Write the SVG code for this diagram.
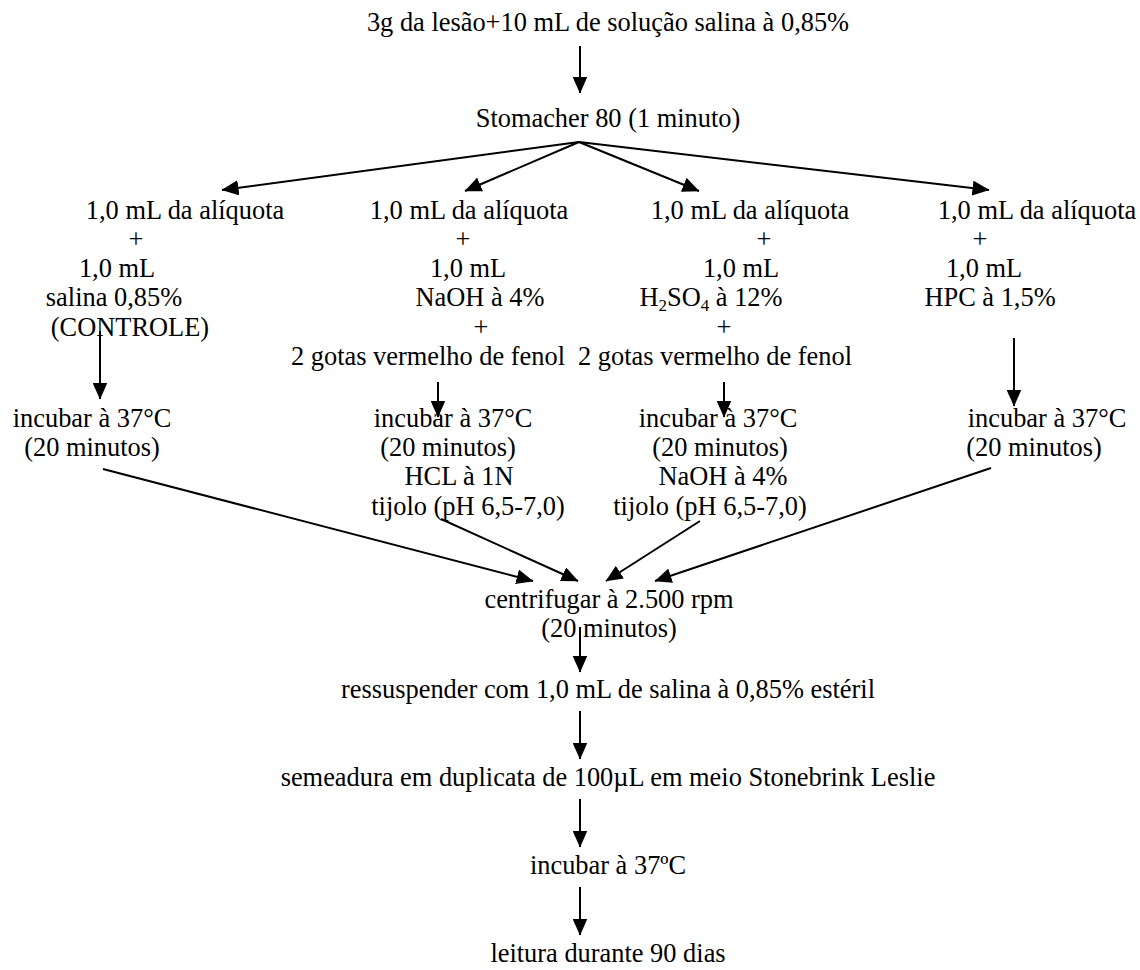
<svg xmlns="http://www.w3.org/2000/svg" width="1140" height="970" viewBox="0 0 1140 970">
  <style>
    text { font-family: "Liberation Serif", "Times New Roman", serif; font-size: 26.4px; fill: #000; text-anchor: middle; }
    .sub { font-size: 17px; }
    .conn line { stroke: #000; stroke-width: 2; fill: none; marker-end: url(#ah); }
  </style>
  <defs>
    <marker id="ah" markerUnits="userSpaceOnUse" markerWidth="17" markerHeight="15" viewBox="0 0 17 15" refX="16.5" refY="7.5" orient="auto">
      <path d="M0,0 L17,7.5 L0,15 Z" fill="#000"/>
    </marker>
  </defs>
  <rect width="1140" height="970" fill="#fff"/>

  <!-- process steps -->
  <g id="amostra"><text x="608" y="31">3g da lesão+10 mL de solução salina à 0,85%</text></g>
  <g id="stomacher"><text x="608" y="127">Stomacher 80 (1 minuto)</text></g>

  <g id="controle">
    <text x="185" y="219">1,0 mL da alíquota</text>
    <text x="136" y="248">+</text>
    <text x="117" y="277">1,0 mL</text>
    <text x="114" y="306">salina 0,85%</text>
    <text x="130" y="336">(CONTROLE)</text>
  </g>
  <g id="naoh">
    <text x="469" y="219">1,0 mL da alíquota</text>
    <text x="463" y="248">+</text>
    <text x="468" y="277">1,0 mL</text>
    <text x="480" y="306">NaOH à 4%</text>
    <text x="481" y="336">+</text>
    <text x="428" y="365">2 gotas vermelho de fenol</text>
  </g>
  <g id="h2so4">
    <text x="750" y="219">1,0 mL da alíquota</text>
    <text x="764" y="248">+</text>
    <text x="741" y="277">1,0 mL</text>
    <text x="711" y="306">H<tspan class="sub" dy="5">2</tspan><tspan dy="-5">SO</tspan><tspan class="sub" dy="5">4</tspan><tspan dy="-5"> à 12%</tspan></text>
    <text x="724" y="336">+</text>
    <text x="715" y="365">2 gotas vermelho de fenol</text>
  </g>
  <g id="hpc">
    <text x="1037" y="219">1,0 mL da alíquota</text>
    <text x="980" y="248">+</text>
    <text x="984" y="277">1,0 mL</text>
    <text x="990" y="306">HPC à 1,5%</text>
  </g>

  <g id="incubar-controle">
    <text x="92" y="427">incubar à 37°C</text>
    <text x="92" y="456">(20 minutos)</text>
  </g>
  <g id="incubar-naoh">
    <text x="453" y="427">incubar à 37°C</text>
    <text x="448" y="456">(20 minutos)</text>
    <text x="459" y="485">HCL à 1N</text>
    <text x="468" y="515">tijolo (pH 6,5-7,0)</text>
  </g>
  <g id="incubar-h2so4">
    <text x="718" y="427">incubar à 37°C</text>
    <text x="720" y="456">(20 minutos)</text>
    <text x="723" y="485">NaOH à 4%</text>
    <text x="710" y="515">tijolo (pH 6,5-7,0)</text>
  </g>
  <g id="incubar-hpc">
    <text x="1047" y="427">incubar à 37°C</text>
    <text x="1034" y="456">(20 minutos)</text>
  </g>

  <g id="centrifugar">
    <text x="609" y="608">centrifugar à 2.500 rpm</text>
    <text x="609" y="637">(20 minutos)</text>
  </g>
  <g id="ressuspender"><text x="608" y="698">ressuspender com 1,0 mL de salina à 0,85% estéril</text></g>
  <g id="semeadura"><text x="608" y="786">semeadura em duplicata de 100µL em meio Stonebrink Leslie</text></g>
  <g id="incubacao"><text x="608" y="874">incubar à 37ºC</text></g>
  <g id="leitura"><text x="608" y="962">leitura durante 90 dias</text></g>

  <!-- connectors -->
  <g id="connectors" class="conn">
    <line x1="580" y1="46" x2="580" y2="93"/>
    <line x1="579" y1="142" x2="222" y2="190"/>
    <line x1="579" y1="142" x2="465" y2="191"/>
    <line x1="579" y1="142" x2="699" y2="191"/>
    <line x1="579" y1="142" x2="989" y2="190"/>
    <line x1="100" y1="331" x2="100" y2="399"/>
    <line x1="438" y1="382" x2="438" y2="417"/>
    <line x1="724" y1="382" x2="724" y2="417"/>
    <line x1="1014" y1="338" x2="1014" y2="406"/>
    <line x1="103" y1="469" x2="533" y2="581"/>
    <line x1="441" y1="519" x2="578" y2="581"/>
    <line x1="700" y1="521" x2="606" y2="581"/>
    <line x1="991" y1="468" x2="655" y2="581"/>
    <line x1="580" y1="627" x2="580" y2="672"/>
    <line x1="580" y1="711" x2="580" y2="759"/>
    <line x1="580" y1="799" x2="580" y2="847"/>
    <line x1="580" y1="887" x2="580" y2="935"/>
  </g>
</svg>
